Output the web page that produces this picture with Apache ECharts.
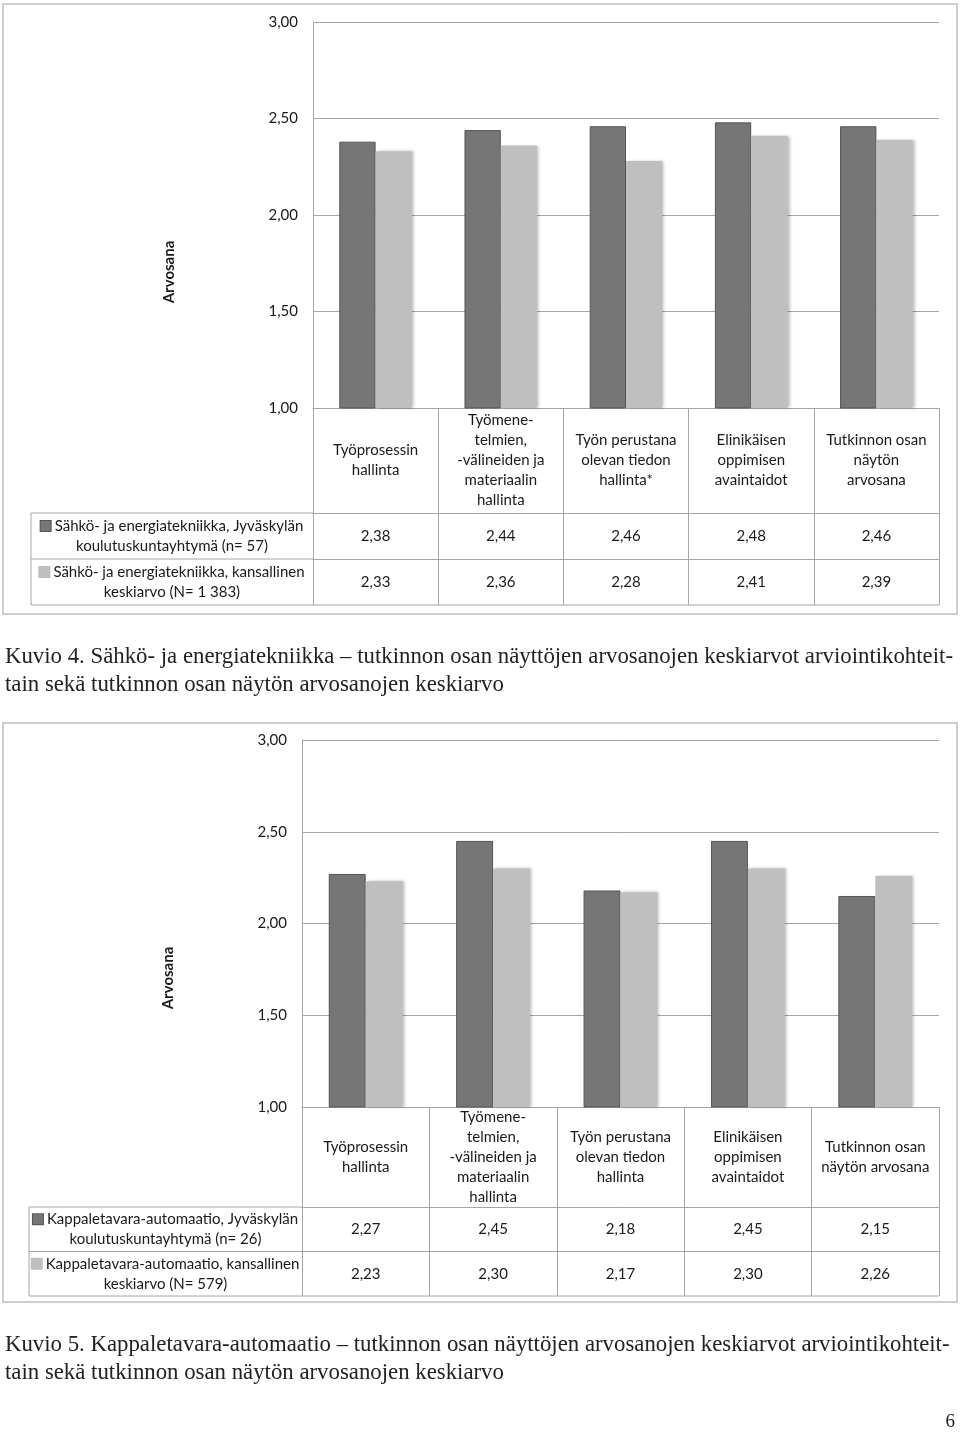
<!DOCTYPE html>
<html>
<head>
<meta charset="utf-8">
<script src="https://cdn.jsdelivr.net/npm/echarts@6/dist/echarts.min.js"></script>
<style>
  html, body { margin: 0; padding: 0; background: #fff; }
  #chart { width: 960px; height: 1432px; }
</style>
</head>
<body>
<div id="chart"></div>
<script>
// ---------- DATA ----------
const categories1 = [
  'Työprosessin\nhallinta',
  'Työmene-\ntelmien,\n-välineiden ja\nmateriaalin\nhallinta',
  'Työn perustana\nolevan tiedon\nhallinta*',
  'Elinikäisen\noppimisen\navaintaidot',
  'Tutkinnon osan\nnäytön\narvosana'
];
const seriesNames1 = [
  'Sähkö- ja energiatekniikka, Jyväskylän\nkoulutuskuntayhtymä (n= 57)',
  'Sähkö- ja energiatekniikka, kansallinen\nkeskiarvo (N= 1 383)'
];
const local1 = [2.38, 2.44, 2.46, 2.48, 2.46];
const national1 = [2.33, 2.36, 2.28, 2.41, 2.39];

const categories2 = [
  'Työprosessin\nhallinta',
  'Työmene-\ntelmien,\n-välineiden ja\nmateriaalin\nhallinta',
  'Työn perustana\nolevan tiedon\nhallinta',
  'Elinikäisen\noppimisen\navaintaidot',
  'Tutkinnon osan\nnäytön arvosana'
];
const seriesNames2 = [
  'Kappaletavara-automaatio, Jyväskylän\nkoulutuskuntayhtymä (n= 26)',
  'Kappaletavara-automaatio, kansallinen\nkeskiarvo (N= 579)'
];
const local2 = [2.27, 2.45, 2.18, 2.45, 2.15];
const national2 = [2.23, 2.30, 2.17, 2.30, 2.26];

const yMin = 1, yMax = 3, yStep = 0.5;
const yAxisTitle = 'Arvosana';
const caption1 = [
  'Kuvio 4. Sähkö- ja energiatekniikka – tutkinnon osan näyttöjen arvosanojen keskiarvot arviointikohteit-',
  'tain sekä tutkinnon osan näytön arvosanojen keskiarvo'
];
const caption2 = [
  'Kuvio 5. Kappaletavara-automaatio – tutkinnon osan näyttöjen arvosanojen keskiarvot arviointikohteit-',
  'tain sekä tutkinnon osan näytön arvosanojen keskiarvo'
];
const pageNumber = '6';

// ---------- STYLE / LAYOUT ----------
const FONT = 'Lato';
const DARK = '#767676', LIGHT = '#bfbfbf';
const LINE = '#a6a6a6';
const TXT = '#1a1a1a';
const fmt = v => v.toFixed(2).replace('.', ',');

const P = [
  { left: 313, top: 22, right: 939, bottom: 408, catH: 105, rowH: 46, legL: 31, boxTop: 4, boxBot: 614, titleX: 169, titleY: 272 },
  { left: 302, top: 740, right: 939, bottom: 1107, catH: 100, rowH: 44.5, legL: 29, boxTop: 723, boxBot: 1302, titleX: 168, titleY: 978 }
];
const cats = [categories1, categories2];
const locals = [local1, local2];
const nats = [national1, national2];
const names = [seriesNames1, seriesNames2];

const grids = [], xAxes = [], yAxes = [], series = [], graphics = [];

P.forEach((p, i) => {
  grids.push({ left: p.left, top: p.top, width: p.right - p.left, height: p.bottom - p.top, containLabel: false });
  const tableH = p.catH + 2 * p.rowH;
  xAxes.push({
    type: 'category', gridIndex: i, data: cats[i], position: 'bottom',
    axisLine: { show: true, lineStyle: { color: LINE, width: 1 } },
    axisTick: { show: true, alignWithLabel: false, length: tableH, lineStyle: { color: LINE, width: 1 } },
    axisLabel: { interval: 0, margin: p.catH / 2, verticalAlign: 'middle', align: 'center',
      fontFamily: FONT, fontSize: 15, lineHeight: 20, color: TXT }
  });
  [locals[i], nats[i]].forEach((arr, r) => {
    xAxes.push({
      type: 'category', gridIndex: i, data: arr.map(fmt), position: 'bottom',
      offset: p.catH + r * p.rowH,
      axisLine: { show: true, lineStyle: { color: LINE, width: 1 } },
      axisTick: { show: false },
      axisLabel: { interval: 0, margin: p.rowH / 2, verticalAlign: 'middle', align: 'center',
        fontFamily: FONT, fontSize: 15, color: TXT }
    });
  });
  yAxes.push({
    type: 'value', gridIndex: i, min: yMin, max: yMax, interval: yStep,
    axisLine: { show: true, lineStyle: { color: LINE, width: 1 } },
    axisTick: { show: false },
    splitLine: { show: true, lineStyle: { color: LINE, width: 1 } },
    axisLabel: { formatter: fmt, margin: 15, fontFamily: FONT, fontSize: 15, color: TXT }
  });
  const xi = i * 3;
  series.push({
    type: 'bar', name: names[i][0].replace('\n', ' '), xAxisIndex: xi, yAxisIndex: i,
    data: locals[i], barGap: '0%', barCategoryGap: '42%',
    itemStyle: { color: DARK, borderColor: '#555', borderWidth: 1 }
  });
  series.push({
    type: 'bar', name: names[i][1].replace('\n', ' '), xAxisIndex: xi, yAxisIndex: i,
    data: nats[i], barGap: '0%', barCategoryGap: '42%',
    itemStyle: { color: LIGHT, shadowColor: 'rgba(0,0,0,0.25)', shadowBlur: 3, shadowOffsetX: 2, shadowOffsetY: 0 }
  });

  graphics.push({ type: 'rect', shape: { x: 3, y: p.boxTop, width: 954, height: p.boxBot - p.boxTop },
    style: { fill: 'none', stroke: '#bdbdbd', lineWidth: 1.5 }, silent: true });
  const yR1 = p.bottom + p.catH, yR2 = yR1 + p.rowH, yR3 = yR2 + p.rowH;
  [yR1, yR2].forEach(y => graphics.push({ type: 'line', shape: { x1: p.legL, y1: y, x2: p.left, y2: y },
    style: { stroke: LINE, lineWidth: 1 }, silent: true }));
  graphics.push({ type: 'line', shape: { x1: p.legL, y1: yR3, x2: p.right, y2: yR3 }, style: { stroke: LINE, lineWidth: 1 }, silent: true });
  graphics.push({ type: 'line', shape: { x1: p.legL, y1: yR1, x2: p.legL, y2: yR3 }, style: { stroke: LINE, lineWidth: 1 }, silent: true });
  const cx = (p.legL + p.left) / 2;
  [[DARK, names[i][0], yR1], [LIGHT, names[i][1], yR2]].forEach(([col, nm, y0]) => {
    const parts = nm.split('\n');
    graphics.push({
      type: 'text', x: cx, y: y0 + p.rowH / 2, silent: true,
      style: {
        text: '{sq|}{gap|}' + parts[0] + '\n' + parts[1],
        align: 'center', verticalAlign: 'middle',
        fontFamily: FONT, fontSize: 15, lineHeight: 20, fill: TXT,
        rich: {
          sq: { width: 10, height: 10, backgroundColor: col, borderColor: col === DARK ? '#555' : col, borderWidth: 1 },
          gap: { width: 4, height: 10 }
        }
      }
    });
  });
  graphics.push({ type: 'text', x: p.titleX, y: p.titleY, rotation: Math.PI / 2, silent: true,
    style: { text: yAxisTitle, align: 'center', verticalAlign: 'middle', fontFamily: FONT, fontSize: 15, fontWeight: 'bold', fill: TXT } });
});

const capFont = '"Liberation Serif", "DejaVu Serif", serif';
[[caption1, 657], [caption2, 1345]].forEach(([lines, y0]) => {
  lines.forEach((t, k) => graphics.push({ type: 'text', x: 5, y: y0 + k * 28.5, silent: true,
    style: { text: t, align: 'left', verticalAlign: 'middle', fontFamily: capFont, fontSize: 22.8, fill: '#222' } }));
});
graphics.push({ type: 'text', x: 955, y: 1422, silent: true,
  style: { text: pageNumber, align: 'right', verticalAlign: 'middle', fontFamily: capFont, fontSize: 19, fill: '#222' } });

const chart = echarts.init(document.getElementById('chart'), null, { renderer: 'canvas' });
chart.setOption({
  animation: false,
  backgroundColor: '#fff',
  grid: grids,
  xAxis: xAxes,
  yAxis: yAxes,
  series: series,
  graphic: graphics
});
</script>
</body>
</html>
